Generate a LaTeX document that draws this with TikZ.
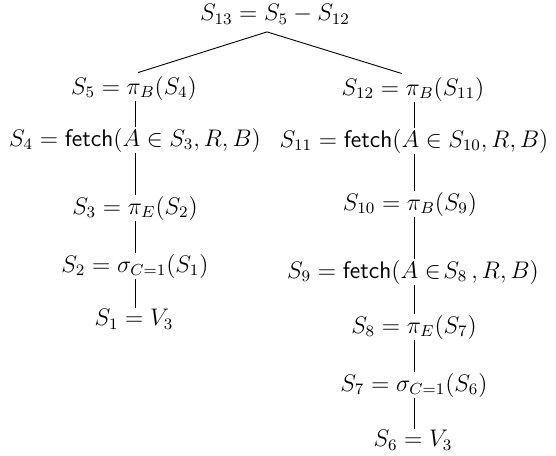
\documentclass[tikz,border=0pt]{standalone}
\begin{document}
\begin{tikzpicture}[x=0.5pt,y=-0.5pt,
  lbl/.style={inner sep=0.5pt,font=\fontsize{11.6}{14}\selectfont},
  edge/.style={line width=0.45pt,black}]
\useasboundingbox (0,0) rectangle (556,455);
% root
\node[lbl,inner sep=0pt] (r) at (275,14.5) {$S_{13} = S_5 - S_{12}$};
% left branch
\node[lbl] (s5) at (134,88) {$S_5 = \pi_B(S_4)$};
\node[lbl] (s4) at (135,140) {$S_4 = \mathsf{fetch}(A \in S_3, R, B)$};
\node[lbl] (s3) at (135,208) {$S_3 = \pi_E(S_2)$};
\node[lbl] (s2) at (135,266) {$S_2 = \sigma_{C=1}(S_1)$};
\node[lbl] (s1) at (134,319) {$S_1 = V_3$};
% right branch
\node[lbl] (s12) at (413,89) {$S_{12} = \pi_B(S_{11})$};
\node[lbl] (s11) at (414,141) {$S_{11} = \mathsf{fetch}(A \in S_{10}, R, B)$};
\node[lbl] (s10) at (410,204) {$S_{10} = \pi_B(S_9)$};
\node[lbl] (s9) at (413,272) {$S_9 = \mathsf{fetch}(A \in\! S_8\,, R, B)$};
\node[lbl] (s8) at (414,327) {$S_8 = \pi_E(S_7)$};
\node[lbl] (s7) at (414,385) {$S_7 = \sigma_{C=1}(S_6)$};
\node[lbl] (s6) at (413,440) {$S_6 = V_3$};
\coordinate (cl) at (135,0);
\coordinate (cr) at (414,0);
% edges
\draw[edge] ([xshift=2pt,yshift=1pt]s5.north) -- ([xshift=-4pt,yshift=-3.5pt]r.south) -- ([xshift=-5.5pt,yshift=1pt]s12.north);
\draw[edge] (s5.south -| cl) -- (s4.north -| cl);
\draw[edge] (s4.south -| cl) -- (s3.north -| cl);
\draw[edge] (s3.south -| cl) -- (s2.north -| cl);
\draw[edge] (s2.south -| cl) -- (s1.north -| cl);
\draw[edge] (s12.south -| cr) -- (s11.north -| cr);
\draw[edge] (s11.south -| cr) -- (s10.north -| cr);
\draw[edge] (s10.south -| cr) -- (s9.north -| cr);
\draw[edge] (s9.south -| cr) -- (s8.north -| cr);
\draw[edge] (s8.south -| cr) -- (s7.north -| cr);
\draw[edge] (s7.south -| cr) -- (s6.north -| cr);
\end{tikzpicture}
\end{document}
